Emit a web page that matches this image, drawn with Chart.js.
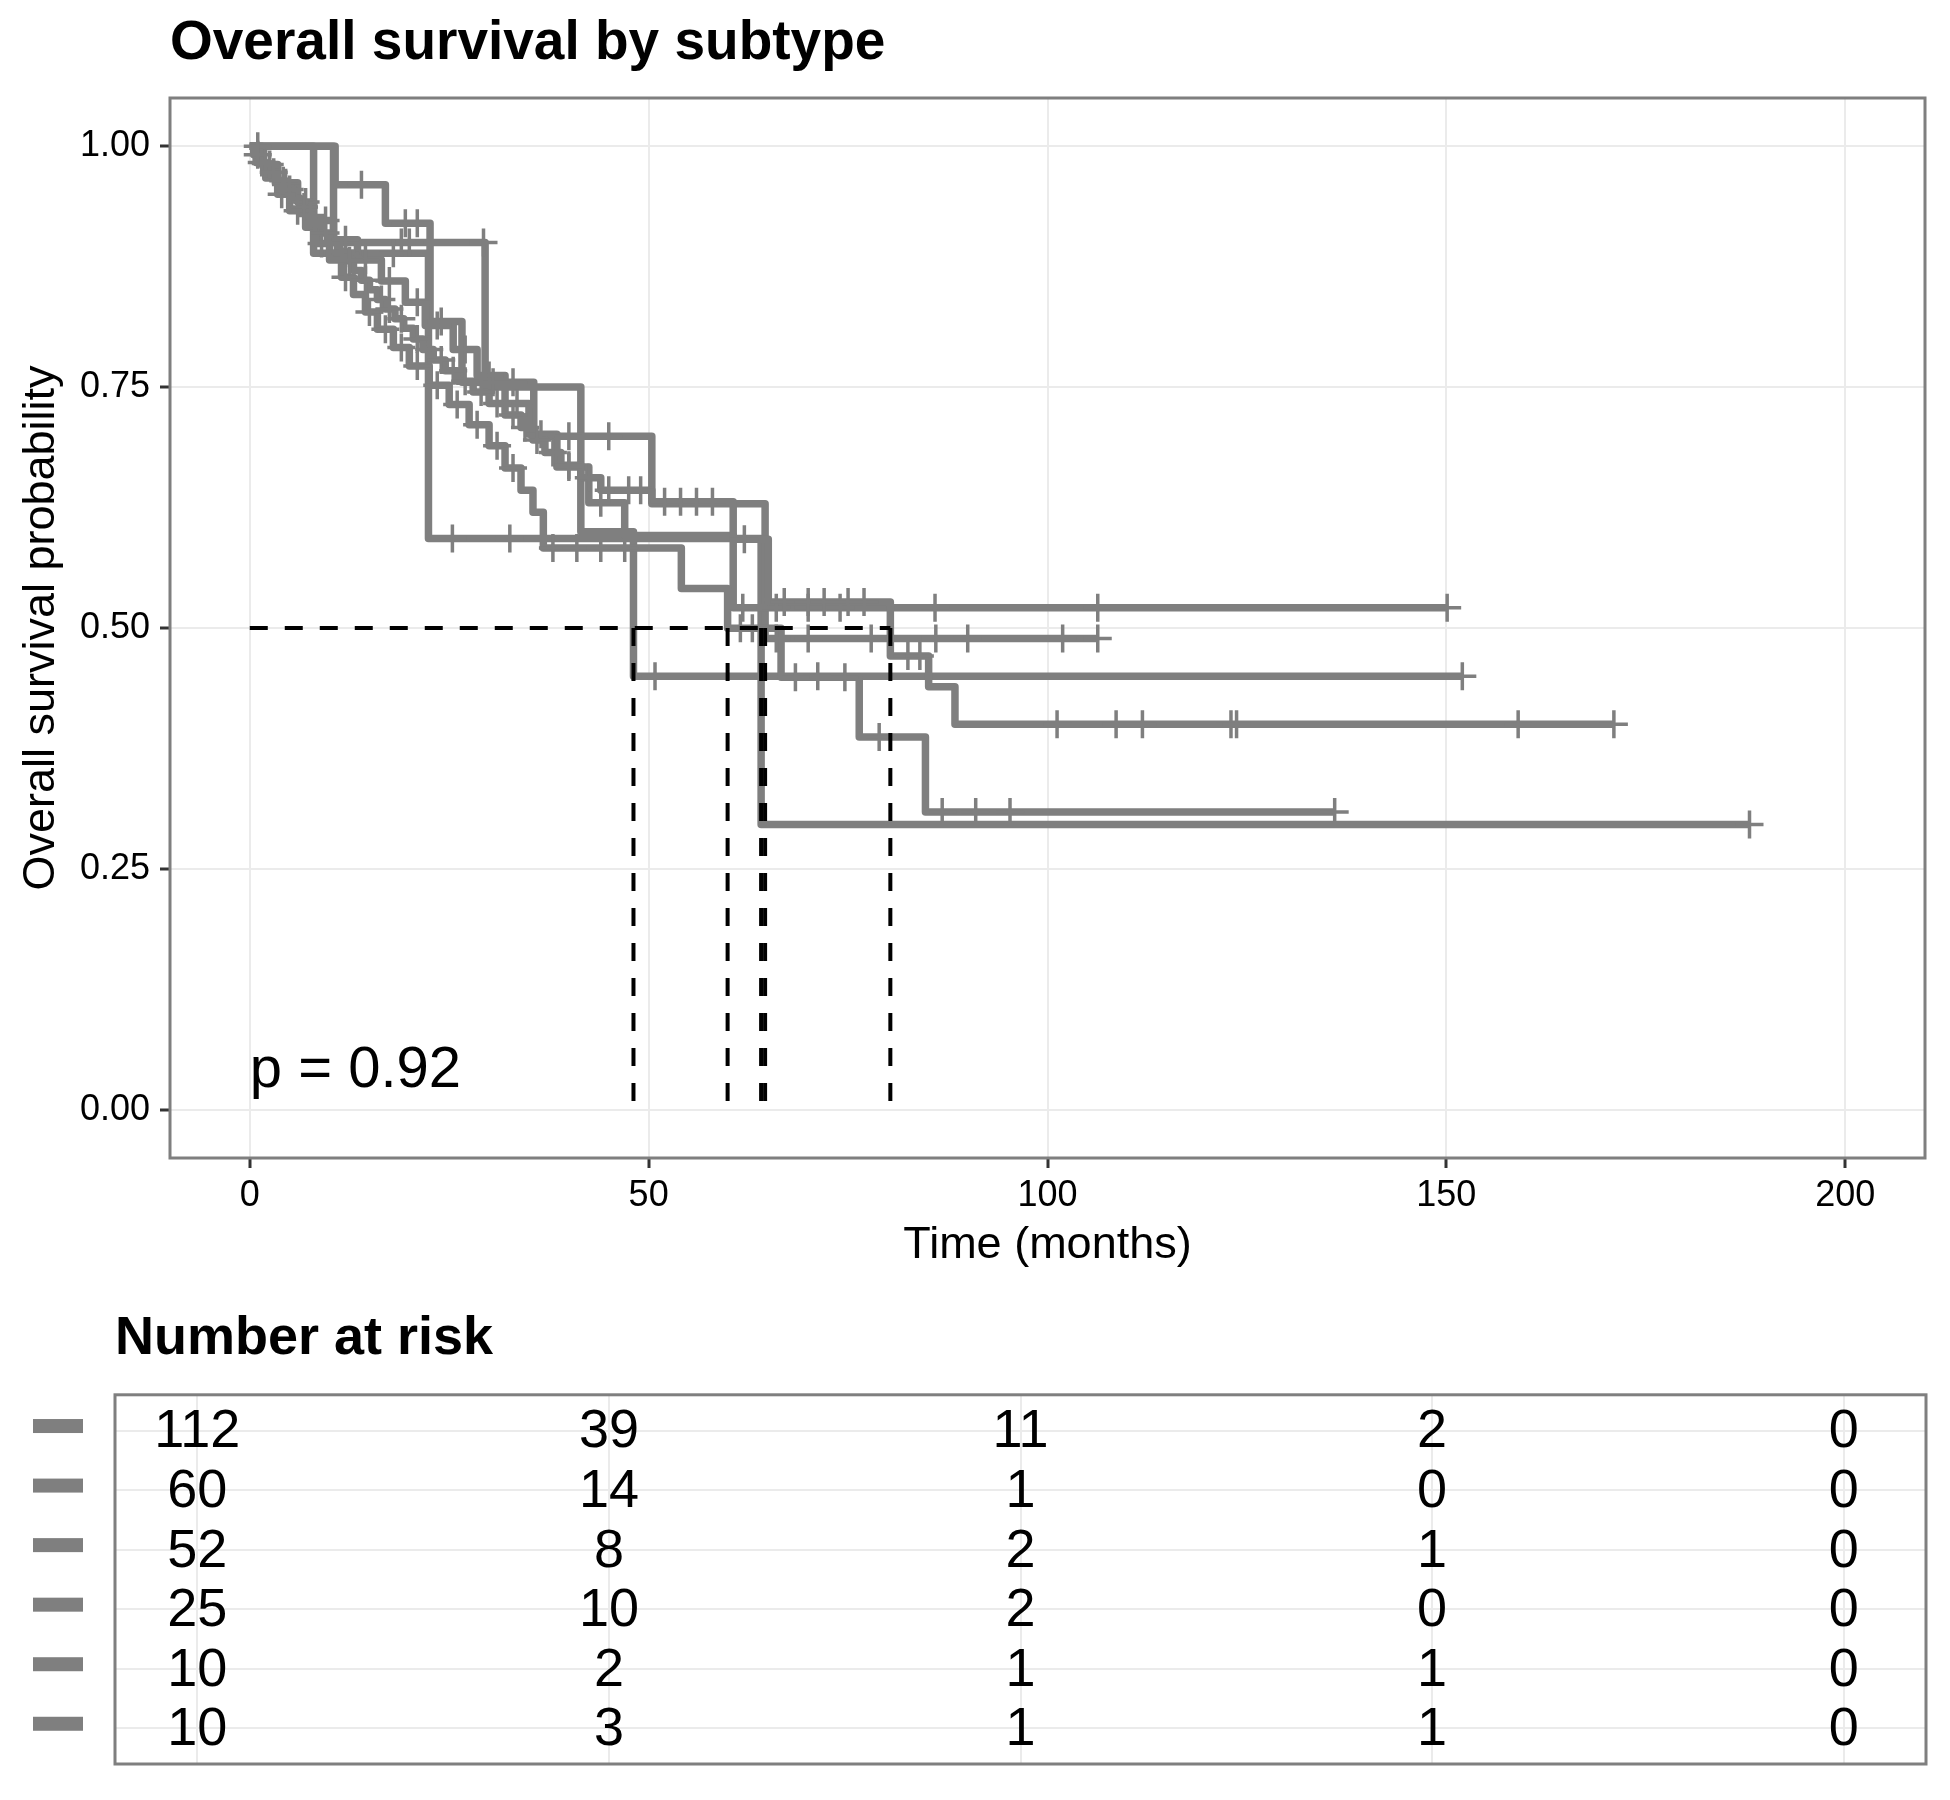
<!DOCTYPE html>
<html>
<head>
<meta charset="utf-8">
<script src="https://cdn.jsdelivr.net/npm/chart.js@4.4.1/dist/chart.umd.min.js"></script>
<style>
  html, body { margin: 0; padding: 0; background: #fff; }
  #wrap { position: relative; width: 1950px; height: 1800px; background: #fff; }
  canvas { position: absolute; left: 0; }
  #km { top: 0; }
  #risk { top: 1290px; }
</style>
</head>
<body>
<div id="wrap">
  <canvas id="km" width="1950" height="1290"></canvas>
  <canvas id="risk" width="1950" height="510"></canvas>
</div>
<script>
// event times (months) and survival after each event, one block per stratum
// censor times: where the "+" marks go (last one = end of the curve)
const time1 = [0.5, 1.5, 2.5, 3.5, 4.5, 5.5, 6.3, 7.2, 8.0, 9.0, 10.0, 11.0, 12.0, 13.0, 14.0, 15.0, 16.0, 17.0, 18.2, 19.3, 20.5, 21.7, 23.0, 24.5, 26.0, 28.0, 30.0, 32.0, 34.0, 35.5, 37.0, 39.0, 41.5, 44.0, 50.4, 60.6, 65.0, 80.3, 85.1, 88.4];
const surv1 = [0.991, 0.982, 0.973, 0.964, 0.955, 0.946, 0.937, 0.928, 0.919, 0.910, 0.900, 0.891, 0.881, 0.871, 0.861, 0.851, 0.841, 0.831, 0.821, 0.811, 0.800, 0.789, 0.778, 0.767, 0.756, 0.745, 0.733, 0.721, 0.708, 0.695, 0.682, 0.669, 0.656, 0.643, 0.631, 0.592, 0.527, 0.471, 0.439, 0.400];
const cens1 = [1, 2, 3, 4.2, 5, 6.8, 7.6, 9.5, 11.5, 12.5, 14.5, 16.5, 17.5, 19, 21, 22.5, 24, 25.5, 27, 29, 31, 33, 34.5, 36, 38, 40, 42.5, 45, 47.5, 49, 52, 54, 56, 58, 62, 67, 70, 72, 75, 77, 82.5, 84, 101.2, 108.6, 111.9, 123, 123.7, 159, 171];

const time2 = [0.8, 2.0, 3.5, 5.0, 7.0, 8.5, 10.0, 11.5, 13.0, 14.5, 16.0, 18.0, 20.0, 22.5, 25.0, 27.5, 30.0, 32.0, 34.0, 35.5, 36.8, 54.1, 59.9, 66.6, 76.4, 84.7];
const surv2 = [0.983, 0.967, 0.950, 0.933, 0.916, 0.899, 0.882, 0.864, 0.846, 0.828, 0.810, 0.791, 0.772, 0.752, 0.732, 0.711, 0.689, 0.666, 0.643, 0.620, 0.583, 0.541, 0.4997, 0.449, 0.387, 0.309];
const cens2 = [1.5, 4, 6, 9, 12, 15, 17, 19, 21, 23.5, 26, 28.5, 31, 33, 38, 41, 44, 47, 61.5, 63, 68.4, 74.6, 78.9, 86.8, 91, 95.3, 136];

const time3 = [1.5, 3.5, 6.0, 8.0, 10.5, 13.5, 16.5, 19.5, 22.0, 25.5, 28.5, 32.0, 35.0, 38.5, 42.5, 47.0, 60.6];
const surv3 = [0.981, 0.962, 0.942, 0.923, 0.903, 0.882, 0.860, 0.838, 0.814, 0.789, 0.762, 0.733, 0.701, 0.667, 0.630, 0.596, 0.521];
const cens3 = [2.5, 4.5, 7, 9.5, 12, 14.5, 17.5, 21, 23.5, 27, 30, 33.5, 36.5, 40, 44, 61.8, 66, 70, 74, 85.9, 106.3, 150.1];

const time4 = [10.7, 17.0, 22.6, 26.6, 35.6, 50.4, 64.6];
const surv4 = [0.96, 0.92, 0.818, 0.755, 0.699, 0.629, 0.489];
const cens4 = [14, 19.5, 21, 24, 30.5, 33, 40, 45, 66, 70, 77.9, 86, 90, 101.9, 106.3];

const time5 = [8.0, 22.4, 64.1];
const surv5 = [0.889, 0.593, 0.296];
const cens5 = [1.0, 12, 18, 25.4, 32.6, 188];

const time6 = [10.5, 29.5, 41.5, 48.1];
const surv6 = [0.9, 0.75, 0.6, 0.45];
const cens6 = [19, 20, 29.3, 50.8, 71.2, 152];

const xTicks = [0, 50, 100, 150, 200];
const yTicks = [0, 0.25, 0.5, 0.75, 1];

// number at risk table
const riskTimes = [0, 50, 100, 150, 200];
const risk1 = [112, 39, 11, 2, 0];
const risk2 = [60, 14, 1, 0, 0];
const risk3 = [52, 8, 2, 1, 0];
const risk4 = [25, 10, 2, 0, 0];
const risk5 = [10, 2, 1, 1, 0];
const risk6 = [10, 3, 1, 1, 0];

const pLabel = "p = 0.92";
const pAt = [0, 0.024];

const GRAY = "#7f7f7f";
const FONT = "'Liberation Sans', Arial, Helvetica, sans-serif";
Chart.defaults.font.family = FONT;

const strata = [
  { t: time1, s: surv1, c: cens1 },
  { t: time2, s: surv2, c: cens2 },
  { t: time3, s: surv3, c: cens3 },
  { t: time4, s: surv4, c: cens4 },
  { t: time5, s: surv5, c: cens5 },
  { t: time6, s: surv6, c: cens6 }
];

function stepValue(st, t) {
  let v = 1;
  for (let i = 0; i < st.t.length; i++) {
    if (st.t[i] <= t) v = st.s[i];
  }
  return v;
}

const datasets = [];
const medians = [];

strata.forEach(st => {
  const end = Math.max(...st.c);
  const pts = [{ x: 0, y: 1 }];
  st.t.forEach((t, i) => pts.push({ x: t, y: st.s[i] }));
  pts.push({ x: end, y: st.s[st.s.length - 1] });
  datasets.push({
    data: pts, stepped: true, borderColor: GRAY, borderWidth: 7.5,
    borderJoinStyle: "round", pointRadius: 0, order: 2
  });
  datasets.push({
    data: st.c.map(t => ({ x: t, y: stepValue(st, t) })),
    showLine: false, pointStyle: "cross", pointRadius: 14, pointHoverRadius: 14,
    pointBorderColor: GRAY, pointBorderWidth: 3.5, order: 1
  });
  const k = st.s.findIndex(v => v <= 0.5);
  if (k >= 0) medians.push(st.t[k]);
});

// median survival lines (dashed)
const dashed = { borderColor: "#000", borderWidth: 4, borderDash: [18, 17], pointRadius: 0, order: 0 };
datasets.push({ ...dashed, data: [{ x: 0, y: 0.5 }, { x: Math.max(...medians), y: 0.5 }] });
medians.forEach(m => {
  datasets.push({ ...dashed, data: [{ x: m, y: 0.5 }, { x: m, y: 0 }] });
});

const panelBorder = {
  id: "panelBorder",
  afterDraw(chart) {
    const { ctx, chartArea: a } = chart;
    ctx.save();
    ctx.strokeStyle = GRAY;
    ctx.lineWidth = 3;
    ctx.strokeRect(a.left, a.top, a.right - a.left, a.bottom - a.top);
    ctx.restore();
  }
};

const pvalText = {
  id: "pvalText",
  afterDatasetsDraw(chart) {
    const { ctx, scales: { x, y } } = chart;
    ctx.save();
    ctx.font = "58px " + FONT;
    ctx.fillStyle = "#000";
    ctx.textAlign = "left";
    ctx.textBaseline = "alphabetic";
    ctx.fillText(pLabel, x.getPixelForValue(pAt[0]), y.getPixelForValue(pAt[1]));
    ctx.restore();
  }
};

const gridOpts = { color: "#ebebeb", lineWidth: 2, drawTicks: true, tickLength: 10, tickColor: "#333333", tickWidth: 3 };

new Chart(document.getElementById("km"), {
  type: "line",
  data: { datasets },
  options: {
    responsive: false,
    animation: false,
    events: [],
    layout: { padding: { left: 0, right: 25, top: 0, bottom: 0 } },
    plugins: {
      legend: { display: false },
      tooltip: { enabled: false },
      title: {
        display: true, text: "Overall survival by subtype", align: "start", fullSize: false,
        color: "#000", font: { size: 55, weight: "bold" }, padding: { top: 11, bottom: 21 }
      }
    },
    scales: {
      x: {
        type: "linear", min: -10, max: 210,
        afterBuildTicks: s => { s.ticks = xTicks.map(v => ({ value: v })); },
        afterFit: s => { s.height = 132; },
        grid: gridOpts,
        border: { display: false },
        ticks: { color: "#000", font: { size: 36 }, padding: 6, maxRotation: 0, autoSkip: false },
        title: { display: true, text: "Time (months)", color: "#000", font: { size: 45 }, padding: { top: 0, bottom: 17 } }
      },
      y: {
        type: "linear", min: -0.05, max: 1.05,
        afterBuildTicks: s => { s.ticks = yTicks.map(v => ({ value: v })); },
        afterFit: s => { s.width = 170; },
        grid: gridOpts,
        border: { display: false },
        ticks: { color: "#000", font: { size: 36 }, padding: 10, callback: v => Number(v).toFixed(2) },
        title: { display: true, text: "Overall survival probability", color: "#000", font: { size: 45 }, padding: { top: 15, bottom: 0 } }
      }
    }
  },
  plugins: [panelBorder, pvalText]
});

// risk table: one invisible point per cell, text drawn at the point
const riskRows = [risk1, risk2, risk3, risk4, risk5, risk6];
const riskPoints = [];
riskRows.forEach((row, r) => {
  row.forEach((n, i) => riskPoints.push({ x: riskTimes[i], y: r + 1, n: n }));
});

const riskText = {
  id: "riskText",
  afterDatasetsDraw(chart) {
    const { ctx, scales: { y } } = chart;
    const meta = chart.getDatasetMeta(0);
    ctx.save();
    ctx.font = "54px " + FONT;
    ctx.fillStyle = "#000";
    ctx.textAlign = "center";
    ctx.textBaseline = "middle";
    meta.data.forEach((el, i) => ctx.fillText(String(riskPoints[i].n), el.x, el.y + 2));
    // strata keys on the left
    ctx.fillStyle = GRAY;
    riskRows.forEach((row, r) => {
      const py = y.getPixelForValue(r + 1);
      ctx.fillRect(33, py - 11.5, 50, 14);
    });
    ctx.restore();
  }
};

const tableGrid = { color: "#ebebeb", lineWidth: 2, drawTicks: false };

new Chart(document.getElementById("risk"), {
  type: "scatter",
  data: { datasets: [{ data: riskPoints, pointRadius: 0, pointHoverRadius: 0 }] },
  options: {
    responsive: false,
    animation: false,
    events: [],
    layout: { padding: { left: 0, right: 24, top: 0, bottom: 0 } },
    plugins: {
      legend: { display: false },
      tooltip: { enabled: false },
      title: {
        display: true, text: "Number at risk", align: "start", fullSize: false,
        color: "#000", font: { size: 54, weight: "bold" }, padding: { top: 17, bottom: 23 }
      }
    },
    scales: {
      x: {
        type: "linear", min: -10, max: 210,
        afterBuildTicks: s => { s.ticks = riskTimes.map(v => ({ value: v })); },
        afterFit: s => { s.height = 36; },
        grid: tableGrid,
        border: { display: false },
        ticks: { display: false }
      },
      y: {
        type: "linear", min: 0.4, max: 6.6, reverse: true,
        afterBuildTicks: s => { s.ticks = riskRows.map((row, r) => ({ value: r + 1 })); },
        afterFit: s => { s.width = 115; },
        grid: tableGrid,
        border: { display: false },
        ticks: { display: false }
      }
    }
  },
  plugins: [panelBorder, riskText]
});
</script>
</body>
</html>
